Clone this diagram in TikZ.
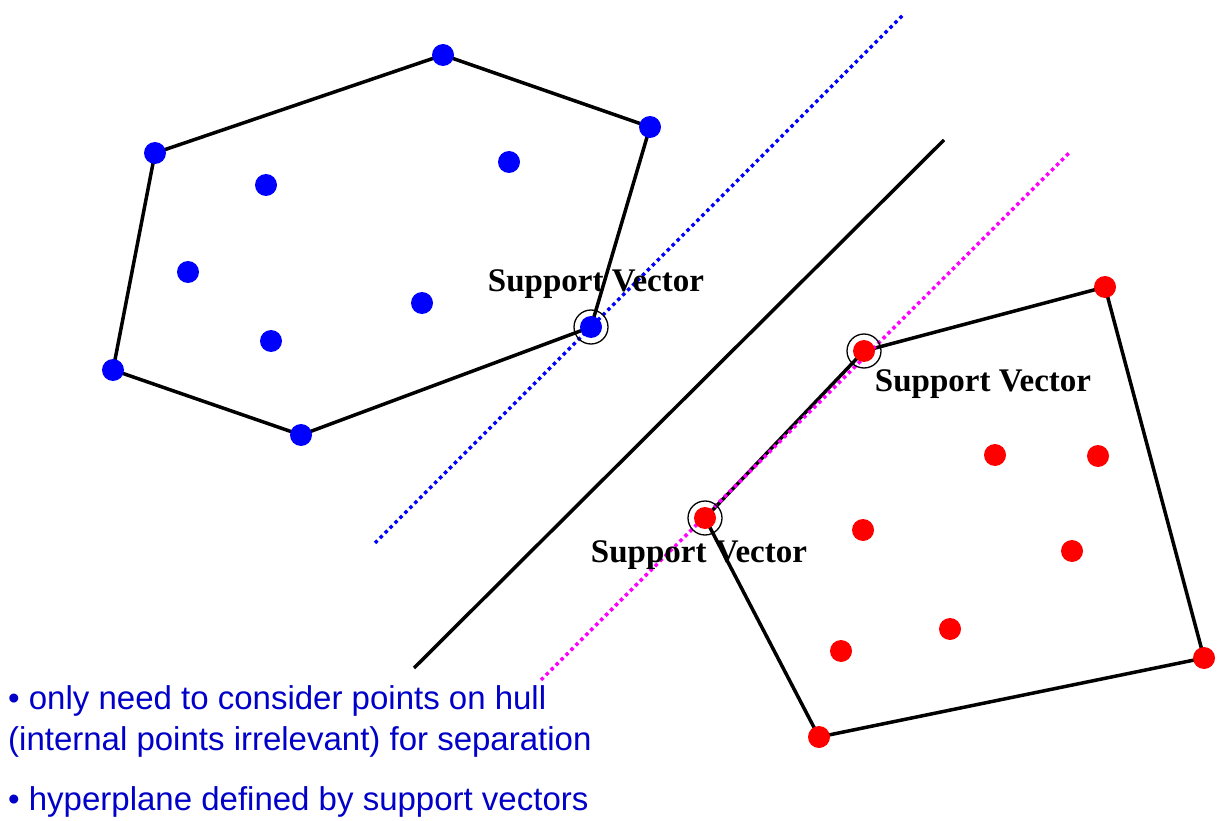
\documentclass[tikz,border=0pt]{standalone}
\usepackage{fontspec}
\setmainfont{Liberation Serif}
\newfontfamily\arialfont{Liberation Sans}
\definecolor{pmag}{RGB}{255,0,255}
\definecolor{pblue}{RGB}{0,0,255}
\definecolor{notecol}{RGB}{0,0,200}
\begin{document}
\begin{tikzpicture}[x=1pt,y=-1pt,
  hull/.style={line width=3.5pt, black},
  bdot/.style={circle, fill=pblue, inner sep=0pt, minimum size=22pt},
  rdot/.style={circle, fill=red, inner sep=0pt, minimum size=22pt},
  svring/.style={circle, draw=black, line width=1.3pt, inner sep=0pt, minimum size=34pt},
  svlabel/.style={font=\fontsize{33}{35}\selectfont\bfseries, inner sep=0pt},
  note/.style={font=\arialfont\fontsize{33}{35}\selectfont, text=notecol, anchor=west, inner sep=0pt},
  bdotted/.style={line width=3.5pt, pblue, dash pattern=on 3.5pt off 3.5pt},
  mdotted/.style={line width=3.5pt, pmag, dash pattern=on 3.5pt off 3.5pt}
]
\useasboundingbox (0,0) rectangle (1219,821);
% blue points
\coordinate (b1) at (443,55);
\coordinate (b2) at (650,127);
\coordinate (b3) at (591,327);
\coordinate (b4) at (301,435);
\coordinate (b5) at (113,370);
\coordinate (b6) at (155,153);
% red points
\coordinate (r1) at (864,351);
\coordinate (r2) at (1105,287);
\coordinate (r3) at (1204,658);
\coordinate (r4) at (819,737);
\coordinate (r5) at (705,518);
% lines
\coordinate (bl1) at (375,543);
\coordinate (bl2) at (904,14);
\coordinate (hl1) at (414,668);
\coordinate (hl2) at (944,140);
\coordinate (ml1) at (541,680);
\coordinate (ml2) at (1069,153);

\draw[hull] (b1) -- (b2) -- (b3) -- (b4) -- (b5) -- (b6) -- cycle;
\draw[hull] (r1) -- (r2) -- (r3) -- (r4) -- (r5) -- cycle;
\draw[line width=3.5pt] (hl1) -- (hl2);
\draw[bdotted] (bl1) -- (bl2);
\draw[mdotted] (ml1) -- (ml2);

\foreach \p in {b1,b2,b3,b4,b5,b6} \node[bdot] at (\p) {};
\foreach \p/\n in {{(509,162)}/bi1,{(266,185)}/bi2,{(188,272)}/bi3,{(422,303)}/bi4,{(271,341)}/bi5}
  \node[bdot] (\n) at \p {};
\foreach \p in {r1,r2,r3,r4,r5} \node[rdot] at (\p) {};
\foreach \p/\n in {{(995,455)}/ri1,{(1098,456)}/ri2,{(863,530)}/ri3,{(1072,551)}/ri4,{(950,629)}/ri5,{(841,651)}/ri6}
  \node[rdot] (\n) at \p {};

\node[svring] (sv1) at (b3) {};
\node[svring] (sv2) at (r1) {};
\node[svring] (sv3) at (r5) {};

\node[svlabel] (l1) at (596,284) {Support Vector};
\node[svlabel] (l2) at (983,384) {Support Vector};
\node[svlabel] (l3) at (699,555) {Support Vector};

\node[note] (n1) at (8,701) {\textbullet{} only need to consider points on hull};
\node[note] (n2) at (8,742) {(internal points irrelevant) for separation};
\node[note] (n3) at (8,802) {\textbullet{} hyperplane defined by support vectors};
\end{tikzpicture}
\end{document}
